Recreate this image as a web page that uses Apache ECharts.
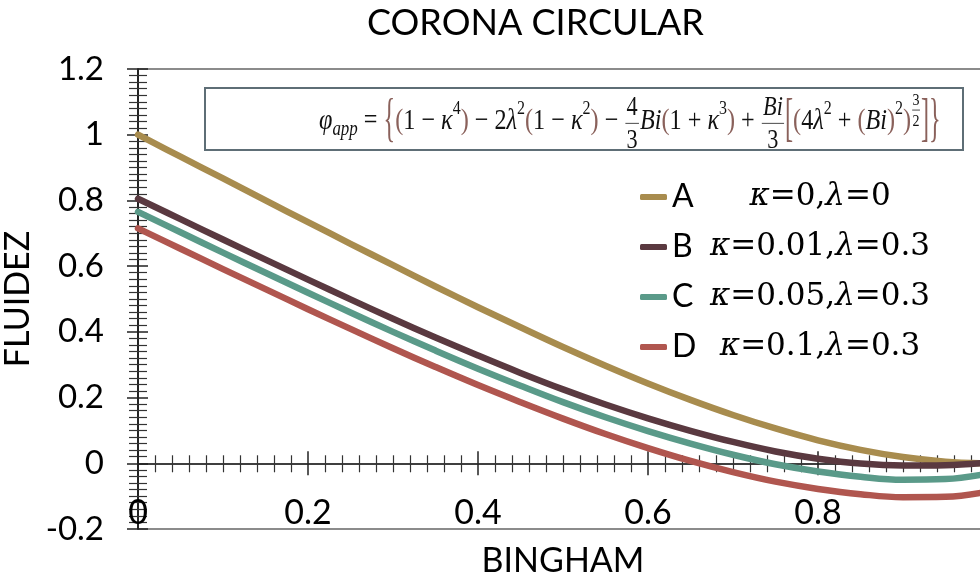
<!DOCTYPE html>
<html>
<head>
<meta charset="utf-8">
<script src="https://cdn.jsdelivr.net/npm/echarts@6/dist/echarts.min.js"></script>
<style>html,body{margin:0;padding:0;background:#fff;}#c{width:980px;height:574px;}</style>
</head>
<body>
<div id="c"></div>
<script>
// ---- data ----
const bingham = [0,0.05,0.1,0.15,0.2,0.25,0.3,0.35,0.4,0.45,0.5,0.55,0.6,0.65,0.7,0.75,0.8,0.85,0.9,0.95,1.0];
const fluidezA = [1.0,0.933,0.867,0.800,0.734,0.668,0.603,0.538,0.475,0.414,0.354,0.297,0.243,0.193,0.147,0.106,0.070,0.041,0.019,0.005,0.0];
const fluidezB = [0.805,0.743,0.681,0.620,0.559,0.499,0.440,0.383,0.328,0.275,0.225,0.179,0.137,0.099,0.065,0.036,0.014,-0.001,-0.007,-0.006,0.002];
const fluidezC = [0.765,0.703,0.641,0.580,0.519,0.459,0.400,0.343,0.288,0.236,0.186,0.140,0.098,0.060,0.026,-0.003,-0.025,-0.041,-0.050,-0.048,-0.031];
const fluidezD = [0.715,0.653,0.591,0.530,0.469,0.409,0.350,0.293,0.238,0.186,0.136,0.089,0.046,0.007,-0.027,-0.056,-0.078,-0.094,-0.103,-0.102,-0.086];
const seriesNames = ['A','B','C','D'];
const seriesParams = [['κ','=0,','λ','=0'],['κ','=0.01,','λ','=0.3'],['κ','=0.05,','λ','=0.3'],['κ','=0.1,','λ','=0.3']];
const xTickLabels = ['0','0.2','0.4','0.6','0.8',''];
const yTickLabels = ['-0.2','0','0.2','0.4','0.6','0.8','1','1.2'];
const titleText = 'CORONA CIRCULAR';
const xName = 'BINGHAM';
const yName = 'FLUIDEZ';
// ----------------------------------------------

const colors = ['#A88C4E','#5A3940','#5A9A89','#B0564F'];
const SANS = 'Lato, "Open Sans", sans-serif';
const SERIF = '"DejaVu Serif", "Liberation Serif", serif';
const MSERIF = '"Liberation Serif", "DejaVu Serif", serif';
const allData = [fluidezA, fluidezB, fluidezC, fluidezD];

const series = allData.map((d, i) => ({
  name: seriesNames[i],
  type: 'line',
  data: bingham.map((x, j) => [x, d[j]]),
  xAxisIndex: 0, yAxisIndex: 0,
  showSymbol: false, symbol: 'none',
  smooth: 0.4,
  lineStyle: { width: 6.5, color: colors[i], cap: 'round', join: 'round' },
  itemStyle: { color: colors[i] },
  z: 3
}));

// ---- formula annotation (text layout) ----
const cv = document.createElement('canvas').getContext('2d');
function fontStr(it, size){ return (it ? 'italic ' : '') + size + 'px ' + MSERIF; }
function mw(text, it, size){ cv.font = fontStr(it, size); return cv.measureText(text).width; }
const brown = '#8A615B';
const segs = [
  ['φ','i',1,0],['app','i',0.7,0.3],[' = ','n',1,0],['{','b',1,0,1],
  ['(','b',1,0],['1 − ','n',1,0],['κ','i',1,0],['4','n',0.66,-0.42],[')','b',1,0],
  [' − 2','n',1,0],['λ','i',1,0],['2','n',0.66,-0.42],['(','b',1,0],['1 − ','n',1,0],['κ','i',1,0],['2','n',0.66,-0.42],[')','b',1,0],
  [' − ','n',1,0],{frac:['4','3'],it:[false,false],size:0.92,dy:0},
  ['Bi','i',1,0],['(','b',1,0],['1 + ','n',1,0],['κ','i',1,0],['3','n',0.66,-0.42],[')','b',1,0],
  [' + ','n',1,0],{frac:['Bi','3'],it:[true,false],size:0.92,dy:0},
  ['[','b',1,0,1],['(','b',1,0],['4','n',1,0],['λ','i',1,0],['2','n',0.66,-0.42],[' + ','n',1,0],
  ['(','b',1,0],['Bi','i',1,0],[')','b',1,0],['2','n',0.66,-0.42],[')','b',1,0],
  {frac:['3','2'],it:[false,false],size:0.58,dy:-0.45},
  [']','b',1,0,1],['}','b',1,0,1]
];
function layoutFormula(S, x0, yc, build){
  let x = x0; const els = [];
  segs.forEach(s => {
    if (Array.isArray(s)) {
      const [t, k, f, dy, big] = s;
      const size = S * f, it = k === 'i';
      const w = mw(t, it, size);
      if (build) {
        const el = { type: 'text', z: 20, x: x, y: yc + dy * S,
          style: { text: t, fontSize: size, fontFamily: MSERIF, fontStyle: it ? 'italic' : 'normal',
                   fill: k === 'b' ? brown : '#111', align: 'left', verticalAlign: 'middle' } };
        if (big) { el.scaleY = 1.8; el.originX = 0; el.originY = 0; el.y = yc; }
        els.push(el);
      }
      x += w;
    } else {
      const size = S * s.size;
      const wn = mw(s.frac[0], s.it[0], size), wd = mw(s.frac[1], s.it[1], size);
      const w = Math.max(wn, wd) + 0.2 * S * s.size;
      const by = yc + s.dy * S + 0.08 * S;
      if (build) {
        els.push({ type: 'text', z: 20, x: x + w / 2, y: by - 0.58 * size,
          style: { text: s.frac[0], fontSize: size, fontFamily: MSERIF, fontStyle: s.it[0] ? 'italic' : 'normal', fill: '#111', align: 'center', verticalAlign: 'middle' } });
        els.push({ type: 'text', z: 20, x: x + w / 2, y: by + 0.66 * size,
          style: { text: s.frac[1], fontSize: size, fontFamily: MSERIF, fill: '#111', align: 'center', verticalAlign: 'middle' } });
        els.push({ type: 'line', z: 20, shape: { x1: x + 1, y1: by, x2: x + w - 1, y2: by }, style: { stroke: '#333', lineWidth: 0.8 } });
      }
      x += w;
    }
  });
  return { width: x - x0, els };
}
const targetW = 622;
const w0 = layoutFormula(22, 0, 0, false).width;
const S = 22 * targetW / w0;
const FY = 121;
const formulaGroup = { type: 'group', z: 20, x: 0, y: 0, scaleY: 1.22, originX: 0, originY: FY,
                       children: layoutFormula(S, 319, FY, true).els };

const paramTexts = seriesParams.map((p, i) => ({
  type: 'text', x: 820, y: 197 + 50 * i, z: 20,
  style: { text: '{g|' + p[0] + '}{d|' + p[1] + '}{g|' + p[2] + '}{d|' + p[3] + '}',
    align: 'center', verticalAlign: 'middle',
    rich: { g: { fontFamily: SERIF, fontStyle: 'italic', fontSize: 31, fill: '#000' },
            d: { fontFamily: SERIF, fontSize: 31, fill: '#000' } } }
}));

const tickLine = { color: '#222', width: 1.5 };
const xBase = { type: 'value', min: 0, max: 1, interval: 0.2, splitLine: { show: false } };
const yBase = { type: 'value', min: -0.2, max: 1.2, interval: 0.2, splitLine: { show: false } };

const option = {
  animation: false,
  backgroundColor: '#fff',
  title: { text: titleText, left: 367, top: 5, padding: 0,
           textStyle: { fontFamily: SANS, fontSize: 36, fontWeight: 'normal', color: '#000' } },
  grid: { left: 138, top: 69, width: 850, height: 460, show: true, borderColor: '#666', borderWidth: 1.5,
          containLabel: false, outerBoundsMode: 'none' },
  legend: { orient: 'vertical', left: 640, top: 180, padding: 0, itemWidth: 27, itemHeight: 6, itemGap: 16,
            icon: 'roundRect', data: seriesNames,
            textStyle: { fontFamily: SANS, fontSize: 32, color: '#000', lineHeight: 34 } },
  xAxis: [
    Object.assign({}, xBase, { position: 'bottom', name: xName, nameLocation: 'middle', nameGap: 15,
      nameTextStyle: { fontFamily: SANS, fontSize: 34, color: '#000' },
      axisLine: { show: false, onZero: false }, axisTick: { show: false },
      axisLabel: { inside: true, margin: -1, fontFamily: SANS, fontSize: 34, color: '#000',
                   formatter: v => xTickLabels[Math.round(v / 0.2)] ?? '' } }),
    Object.assign({}, xBase, { position: 'bottom',
      axisLine: { show: true, onZero: true, onZeroAxisIndex: 0, lineStyle: { color: '#000', width: 1.5 } },
      axisTick: { show: true, inside: false, length: 12, lineStyle: tickLine },
      minorTick: { show: true, splitNumber: 10, length: 9, lineStyle: { color: '#333', width: 1.2 } },
      axisLabel: { show: false } }),
    Object.assign({}, xBase, { position: 'bottom',
      axisLine: { show: false, onZero: true, onZeroAxisIndex: 0 },
      axisTick: { show: true, inside: true, length: 12, lineStyle: tickLine },
      minorTick: { show: true, splitNumber: 10, length: 8, lineStyle: { color: '#333', width: 1.2 } },
      axisLabel: { show: false } })
  ],
  yAxis: [
    Object.assign({}, yBase, { position: 'left', name: yName, nameLocation: 'middle', nameGap: 93, nameRotate: 90,
      nameTextStyle: { fontFamily: SANS, fontSize: 34, color: '#000' },
      axisLine: { show: true, onZero: false, lineStyle: { color: '#000', width: 1.5 } },
      axisTick: { show: true, inside: false, length: 11, lineStyle: tickLine },
      minorTick: { show: true, splitNumber: 10, length: 9, lineStyle: { color: '#333', width: 1.2 } },
      axisLabel: { margin: 34, fontFamily: SANS, fontSize: 33, color: '#000',
                   formatter: v => yTickLabels[Math.round((v + 0.2) / 0.2)] ?? '' } }),
    Object.assign({}, yBase, { position: 'left',
      axisLine: { show: false, onZero: false },
      axisTick: { show: true, inside: true, length: 10, lineStyle: tickLine },
      minorTick: { show: true, splitNumber: 10, length: 9, lineStyle: { color: '#333', width: 1.2 } },
      axisLabel: { show: false } })
  ],
  graphic: [
    { type: 'rect', z: 10, shape: { x: 205, y: 88, width: 758, height: 62 },
      style: { fill: '#fff', stroke: '#5E6E76', lineWidth: 2 } },
    formulaGroup
  ].concat(paramTexts),
  series: series
};
const chart = echarts.init(document.getElementById('c'), null, { renderer: 'canvas' });
chart.setOption(option);
</script>
</body>
</html>
